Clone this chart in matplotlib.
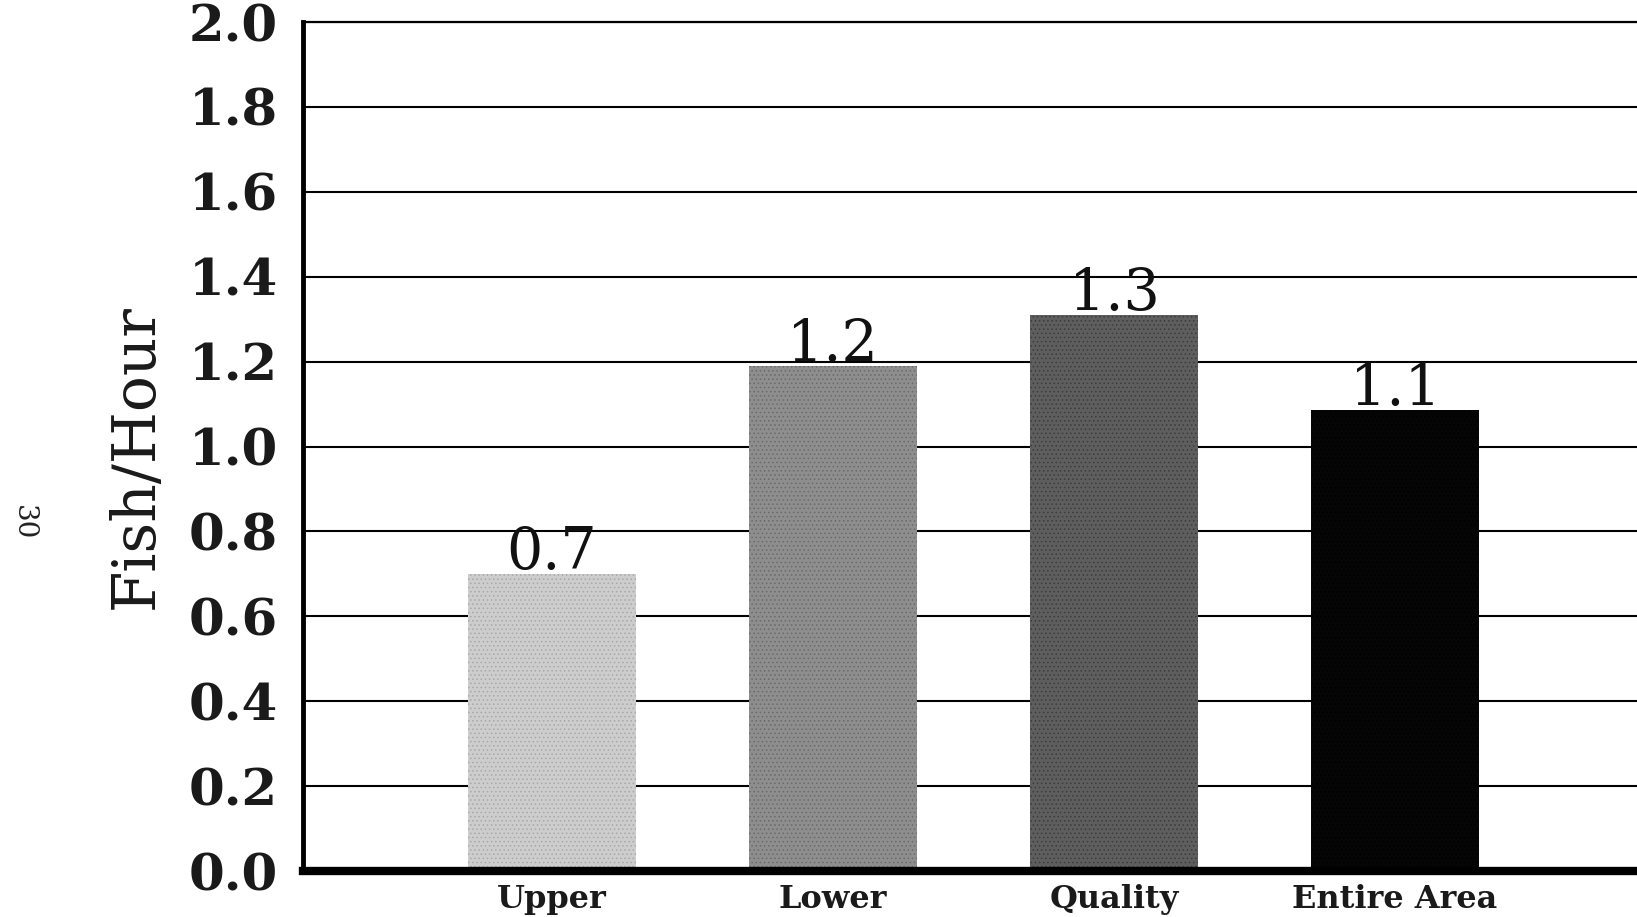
import numpy as np
import matplotlib
matplotlib.use('Agg')
import matplotlib.pyplot as plt

areas = ['Upper', 'Lower', 'Quality', 'Entire Area']
fish_per_hour = [0.70, 1.19, 1.31, 1.085]
bar_colors = ['#cdcdcd', '#8e8e8e', '#5e5e5e', '#050505']
dot_colors = ['#a8a8a8', '#6a6a6a', '#3c3c3c', '#000000']
yticks = np.arange(0, 2.01, 0.2)

plt.rcParams['font.family'] = ['DejaVu Serif']
plt.rcParams['hatch.linewidth'] = 0.6

fig = plt.figure(figsize=(16.37, 9.17), dpi=100)
ax = fig.add_axes([0.185, 0.050, 0.815, 0.926])

x = np.arange(len(areas))
for i, (v, fc, dc) in enumerate(zip(fish_per_hour, bar_colors, dot_colors)):
    ax.bar(x[i], v, width=0.6, color=fc, edgecolor=dc, hatch='....',
           linewidth=0, zorder=3)
    ax.text(x[i], v + 0.012, f'{v:.1f}', ha='center', va='baseline',
            fontsize=41, color='#111111', zorder=4)

ax.set_xlim(-0.886, 3.861)
ax.set_ylim(0, 2.0)
ax.set_yticks(yticks)
ax.set_yticklabels([f'{t:.1f}' for t in yticks], fontsize=37,
                   fontweight='bold', color='#1a1a1a')
ax.set_xticks(x)
ax.set_xticklabels(areas, fontsize=23, fontweight='bold', color='#1a1a1a')
ax.tick_params(axis='y', length=0, pad=18)
ax.tick_params(axis='x', length=0, pad=9)

ax.yaxis.grid(True, color='black', linewidth=1.5, zorder=1)
ax.set_axisbelow(True)

ax.spines['right'].set_visible(False)
ax.spines['top'].set_linewidth(1.6)
ax.spines['left'].set_linewidth(3.5)
ax.spines['bottom'].set_linewidth(6.0)
ax.spines['bottom'].set_zorder(5)

fig.text(0.083, 0.502, 'Fish/Hour', rotation=90, ha='center', va='center',
         fontsize=43, color='#1a1a1a')
fig.text(0.014, 0.43, '30', rotation=-90, ha='center', va='center',
         fontsize=20, color='#222222')

fig.savefig('out.png', dpi=100)
